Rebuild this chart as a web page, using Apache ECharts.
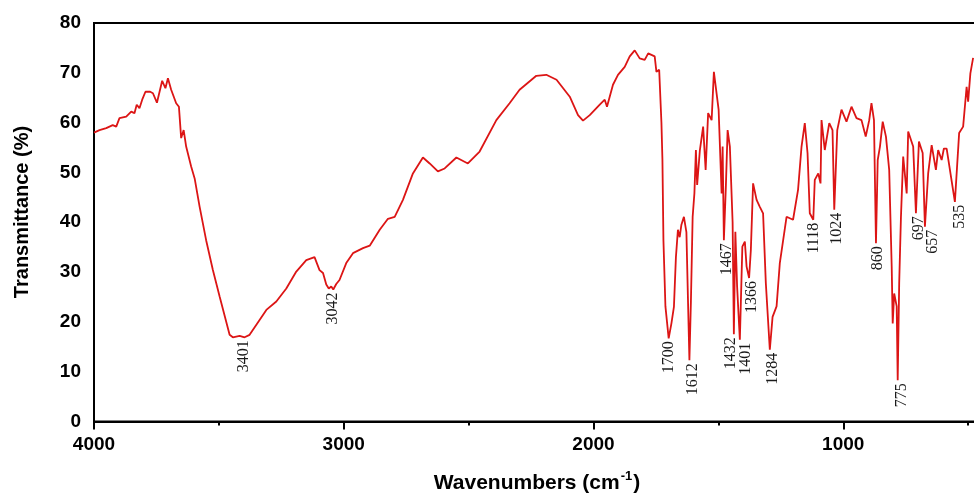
<!DOCTYPE html>
<html>
<head>
<meta charset="utf-8">
<script src="https://cdn.jsdelivr.net/npm/echarts@6/dist/echarts.min.js"></script>
<style>
  html, body { margin: 0; padding: 0; background: #fff; }
  #chart { width: 974px; height: 494px; }
</style>
</head>
<body>
<div id="chart"></div>
<script>
// spectrum: wavenumber (cm-1) and transmittance (%)
const wavenumbers = [
  4000, 3978, 3951, 3925, 3911, 3898, 3871, 3851, 3838, 3829, 3818, 3807, 3794,
  3775, 3764, 3748, 3727, 3714, 3704, 3691, 3671, 3660, 3651, 3641, 3631, 3611,
  3597, 3577, 3551, 3524, 3497, 3457, 3444, 3417, 3397, 3377, 3337, 3310, 3270,
  3230, 3190, 3150, 3117, 3097, 3083, 3070, 3060, 3050, 3042, 3030, 3017, 2990,
  2963, 2923, 2896, 2856, 2823, 2796, 2763, 2723, 2683, 2656, 2623, 2596, 2549,
  2503, 2456, 2389, 2336, 2296, 2229, 2189, 2148, 2095, 2062, 2042, 2015, 1975,
  1955, 1946, 1922, 1902, 1875, 1855, 1835, 1815, 1795, 1781, 1768, 1755, 1748,
  1737, 1728, 1724, 1720, 1712, 1699, 1688, 1678, 1670, 1662, 1655, 1648, 1638,
  1628, 1622, 1616, 1610, 1603, 1596, 1590, 1585, 1574, 1561, 1551, 1541, 1527,
  1518, 1499, 1487, 1483, 1478, 1470, 1463, 1454, 1443, 1438, 1432, 1425, 1414,
  1404, 1394, 1387, 1377, 1370, 1361, 1347, 1334, 1321, 1310, 1294, 1283, 1267,
  1254, 1227, 1201, 1181, 1167, 1154, 1143, 1134, 1120, 1114, 1100, 1091, 1087,
  1074, 1056, 1043, 1036, 1024, 1007, 987, 967, 947, 927, 910, 896, 887, 877,
  869, 862, 853, 842, 829, 816, 806, 802, 796, 786, 782, 776, 769, 760, 746,
  740, 720, 709, 697, 682, 673, 660, 646, 629, 620, 606, 597, 586, 553, 536,
  520, 506, 500, 491, 480, 470
];
const transmittance = [
  58.0, 58.5, 58.9, 59.5, 59.2, 60.9, 61.2, 62.2, 61.9, 63.6, 62.9, 64.6, 66.2,
  66.2, 65.9, 64.0, 68.4, 66.9, 68.9, 66.6, 63.9, 63.2, 56.9, 58.5, 55.2, 51.2,
  48.8, 43.1, 36.4, 30.4, 25.1, 17.4, 16.9, 17.2, 16.9, 17.4, 20.4, 22.4, 24.1,
  26.7, 30.1, 32.4, 33.0, 30.4, 29.8, 27.5, 26.7, 27.1, 26.5, 27.6, 28.4, 31.8,
  33.8, 34.8, 35.3, 38.5, 40.7, 41.1, 44.5, 49.8, 53.0, 51.8, 50.2, 50.8, 53.0,
  51.8, 54.2, 60.5, 63.9, 66.6, 69.4, 69.6, 68.6, 65.2, 61.5, 60.4, 61.5, 63.6,
  64.6, 63.2, 67.6, 69.6, 71.2, 73.3, 74.5, 72.9, 72.6, 73.9, 73.6, 73.3, 70.2,
  70.6, 60.0, 52.5, 36.4, 23.1, 16.7, 19.7, 23.0, 33.0, 38.5, 37.0, 39.5, 41.1,
  38.0, 25.0, 12.3, 24.0, 41.1, 45.8, 54.5, 47.5, 54.5, 59.2, 50.5, 61.9,
  60.5, 70.2, 62.6, 45.8, 55.2, 36.4, 47.2, 58.5, 55.2, 40.0, 17.5, 38.1, 27.1,
  16.4, 35.1, 36.1, 31.1, 28.8, 34.4, 47.8, 44.5, 43.1, 41.8, 27.8, 14.4, 21.0,
  23.1, 31.8, 41.1, 40.5, 46.5, 55.2, 59.9, 53.9, 41.8, 40.5, 48.5, 49.8, 47.8,
  60.5, 54.5, 59.9, 58.5, 42.5, 58.5, 62.6, 60.2, 63.2, 60.9, 60.5, 57.2, 60.5, 63.9,
  60.5, 35.8, 52.5, 55.2, 60.2, 57.2, 50.5, 31.1, 19.7, 25.7, 23.1, 8.3, 27.8, 41.0, 53.2,
  45.8, 58.2, 55.2, 41.8, 56.2, 53.9, 39.1, 49.8, 55.5, 50.5, 54.5, 52.5, 54.8, 54.8, 44.1,
  57.9, 59.2, 67.2, 64.2, 69.9, 73.0
];

// peak annotations: label text, and transmittance at the dip it marks
const peakLabels = ['3401', '3042', '1700', '1612', '1467', '1432', '1401', '1366',
  '1284', '1118', '1024', '860', '775', '697', '657', '535'];
const peakDips = [16.9, 26.5, 16.7, 12.3, 36.4, 17.5, 16.4, 28.8,
  14.4, 40.5, 42.5, 35.8, 8.3, 41.8, 39.1, 44.1];

const xTicks = [4000, 3000, 2000, 1000];

// small sideways nudges so crowded labels don't overlap (px)
const nudge = { '1432': -5, '1401': 3, '657': 4, '775': 2, '1612': 2 };

const spectrum = wavenumbers.map((w, i) => [w, transmittance[i]]);
const peaks = peakLabels.map((t, i) => [Number(t), peakDips[i]]);

const chart = echarts.init(document.getElementById('chart'));
const axisFont = { color: '#000', fontFamily: 'Arial, "Liberation Sans"', fontWeight: 'bold', fontSize: 19 };

chart.setOption({
  animation: false,
  backgroundColor: '#fff',
  grid: {
    // the plot runs past the right edge of the picture, as in the original
    left: 94, top: 23, bottom: 72.5, right: -119,
    outerBoundsMode: 'none',
    containLabel: false,
    show: true, borderColor: '#000', borderWidth: 2
  },
  xAxis: {
    type: 'value',
    inverse: true,
    min: 0, max: 4000, interval: 1000,
    axisLine: { lineStyle: { color: '#000', width: 2 } },
    axisTick: { length: 8, lineStyle: { color: '#000', width: 2 } },
    minorTick: { show: true, splitNumber: 2, length: 4, lineStyle: { color: '#000', width: 2 } },
    splitLine: { show: false },
    axisLabel: Object.assign({ margin: 14, formatter: v => xTicks.indexOf(v) >= 0 ? String(v) : '' }, axisFont)
  },
  yAxis: {
    type: 'value',
    min: 0, max: 80, interval: 10,
    axisLine: { show: true, lineStyle: { color: '#000', width: 2 } },
    axisTick: { show: true, length: 9, lineStyle: { color: '#000', width: 2 } },
    minorTick: { show: true, splitNumber: 2, length: 5, lineStyle: { color: '#000', width: 2 } },
    splitLine: { show: false },
    axisLabel: Object.assign({ margin: 13 }, axisFont)
  },
  graphic: [
    {
      type: 'text', x: 22, y: 212, rotation: Math.PI / 2,
      style: {
        text: 'Transmittance (%)', fill: '#000',
        font: 'bold 20px Arial, "Liberation Sans"',
        align: 'center', verticalAlign: 'middle'
      }
    },
    {
      type: 'text', x: 537, y: 483,
      style: {
        text: '{a|Wavenumbers (cm}{s|-1}{a|)}',
        align: 'center', verticalAlign: 'middle',
        rich: {
          a: { fill: '#000', font: 'bold 21px Arial, "Liberation Sans"', lineHeight: 26 },
          s: { fill: '#000', font: 'bold 13px Arial, "Liberation Sans"', lineHeight: 26, verticalAlign: 'top', padding: [0, 1, 0, 1] }
        }
      }
    }
  ],
  series: [
    {
      type: 'line',
      data: spectrum,
      showSymbol: false,
      lineStyle: { color: '#dc1515', width: 1.8 },
      z: 2
    },
    {
      type: 'custom',
      data: peaks,
      encode: { x: 0, y: 1 },
      z: 3,
      renderItem: (params, api) => {
        const p = api.coord([api.value(0), api.value(1)]);
        const txt = peakLabels[params.dataIndex];
        return {
          type: 'text',
          x: p[0] + (nudge[txt] || 0),
          y: p[1] + 3,
          rotation: Math.PI / 2,
          style: {
            text: txt, fill: '#1a1a1a',
            font: '16px "Liberation Serif", "Times New Roman", serif',
            align: 'right', verticalAlign: 'middle'
          }
        };
      }
    }
  ]
});
</script>
</body>
</html>
